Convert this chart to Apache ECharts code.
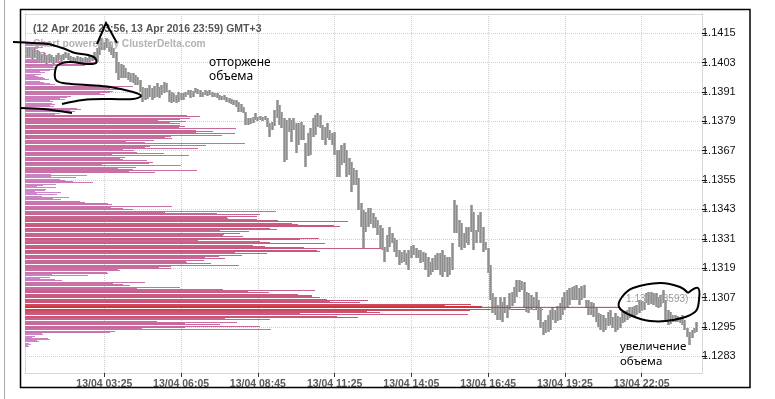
<!DOCTYPE html>
<html><head><meta charset="utf-8">
<script src="https://cdn.jsdelivr.net/npm/echarts@6/dist/echarts.min.js"></script>
<style>html,body{margin:0;padding:0;background:#fff}#c{width:775px;height:399px}</style>
</head><body><div id="c"></div>
<script>
const titleText = '(12 Apr 2016 23:56, 13 Apr 2016 23:59) GMT+3';
const subText = 'Chart powered by ClusterDelta.com';
const xTickMinutes = [205, 365, 525, 685, 845, 1005, 1165, 1325];
const yTickValues = [1.1283, 1.1295, 1.1307, 1.1319, 1.1331, 1.1343, 1.1355, 1.1367, 1.1379, 1.1391, 1.1403, 1.1415];
const firstBarMinute = 45, barStepMinutes = 5;

const barHigh = [
1.14089,1.14093,1.14081,1.14089,1.14081,1.14072,1.14060,1.14068,1.14056,1.14064,
1.14060,1.14052,1.14060,1.14068,1.14060,1.14064,1.14072,1.14068,1.14056,1.14052,
1.14048,1.14056,1.14052,1.14048,1.14052,1.14048,1.14056,1.14060,1.14072,1.14089,
1.14121,1.14130,1.14113,1.14130,1.14113,1.14101,1.14089,1.14072,1.14032,1.14023,
1.14019,1.14007,1.13991,1.13987,1.13987,1.13979,1.13970,1.13958,1.13930,1.13926,
1.13926,1.13938,1.13926,1.13934,1.13946,1.13930,1.13938,1.13950,1.13946,1.13917,
1.13909,1.13905,1.13897,1.13909,1.13905,1.13905,1.13909,1.13917,1.13917,1.13913,
1.13926,1.13921,1.13917,1.13909,1.13917,1.13913,1.13917,1.13909,1.13905,1.13905,
1.13897,1.13893,1.13897,1.13889,1.13885,1.13881,1.13876,1.13876,1.13868,1.13860,
1.13848,1.13827,1.13803,1.13803,1.13807,1.13823,1.13807,1.13811,1.13807,1.13811,
1.13803,1.13783,1.13787,1.13836,1.13876,1.13856,1.13827,1.13803,1.13795,1.13803,
1.13795,1.13803,1.13783,1.13783,1.13787,1.13774,1.13701,1.13742,1.13762,1.13803,
1.13815,1.13823,1.13815,1.13774,1.13766,1.13783,1.13754,1.13742,1.13746,1.13672,
1.13672,1.13693,1.13701,1.13672,1.13640,1.13623,1.13599,1.13591,1.13558,1.13456,
1.13428,1.13419,1.13436,1.13436,1.13415,1.13399,1.13387,1.13366,1.13354,1.13276,
1.13325,1.13358,1.13334,1.13313,1.13305,1.13264,1.13256,1.13264,1.13252,1.13264,
1.13281,1.13285,1.13272,1.13264,1.13264,1.13256,1.13252,1.13236,1.13215,1.13232,
1.13244,1.13252,1.13252,1.13264,1.13244,1.13236,1.13236,1.13293,1.13468,1.13448,
1.13387,1.13374,1.13334,1.13358,1.13358,1.13448,1.13419,1.13346,1.13407,1.13419,
1.13358,1.13297,1.13272,1.13203,1.13089,1.13072,1.13040,1.13072,1.13052,1.13072,
1.13040,1.13089,1.13093,1.13113,1.13142,1.13142,1.13138,1.13134,1.13093,1.13089,
1.13081,1.13072,1.13093,1.13060,1.13027,1.12970,1.12978,1.12999,1.13019,1.13032,
1.13019,1.13036,1.13048,1.13072,1.13093,1.13101,1.13109,1.13113,1.13117,1.13121,
1.13109,1.13117,1.13121,1.13060,1.13060,1.13052,1.13048,1.13027,1.13007,1.13003,
1.12999,1.12987,1.13011,1.13019,1.12991,1.13007,1.12995,1.12991,1.13011,1.13015,
1.13019,1.13032,1.13032,1.13036,1.13040,1.13060,1.13056,1.13052,1.13089,1.13093,
1.13093,1.13089,1.13089,1.13072,1.13081,1.13101,1.13060,1.13019,1.13011,1.12999,
1.12999,1.12995,1.12991,1.12999,1.12978,1.12946,1.12930,1.12938,1.12946,1.12970
];
const barLow = [
1.14048,1.14056,1.14040,1.14052,1.14040,1.14032,1.14028,1.14036,1.14023,1.14032,
1.14028,1.14019,1.14032,1.14040,1.14032,1.14040,1.14048,1.14040,1.14032,1.14028,
1.14028,1.14032,1.14023,1.14028,1.14032,1.14023,1.14032,1.14036,1.14040,1.14032,
1.14060,1.14081,1.14081,1.14089,1.14072,1.14060,1.14048,1.13987,1.13958,1.13966,
1.13966,1.13966,1.13958,1.13950,1.13946,1.13938,1.13938,1.13909,1.13868,1.13876,
1.13881,1.13889,1.13876,1.13885,1.13889,1.13885,1.13897,1.13905,1.13909,1.13868,
1.13864,1.13868,1.13864,1.13868,1.13876,1.13876,1.13889,1.13897,1.13885,1.13889,
1.13905,1.13901,1.13889,1.13889,1.13897,1.13893,1.13897,1.13889,1.13889,1.13885,
1.13876,1.13876,1.13876,1.13868,1.13864,1.13860,1.13856,1.13848,1.13827,1.13827,
1.13823,1.13774,1.13774,1.13779,1.13783,1.13795,1.13791,1.13795,1.13791,1.13795,
1.13766,1.13725,1.13754,1.13770,1.13803,1.13774,1.13762,1.13623,1.13632,1.13746,
1.13705,1.13754,1.13660,1.13693,1.13713,1.13713,1.13603,1.13648,1.13652,1.13725,
1.13734,1.13766,1.13762,1.13713,1.13693,1.13721,1.13713,1.13693,1.13652,1.13562,
1.13562,1.13611,1.13619,1.13562,1.13570,1.13501,1.13530,1.13530,1.13428,1.13358,
1.13272,1.13338,1.13358,1.13370,1.13354,1.13354,1.13325,1.13272,1.13264,1.13215,
1.13256,1.13276,1.13293,1.13256,1.13236,1.13203,1.13211,1.13215,1.13203,1.13183,
1.13232,1.13244,1.13232,1.13232,1.13211,1.13215,1.13183,1.13154,1.13162,1.13174,
1.13183,1.13183,1.13162,1.13154,1.13174,1.13154,1.13162,1.13183,1.13334,1.13334,
1.13276,1.13264,1.13272,1.13293,1.13285,1.13338,1.13264,1.13293,1.13338,1.13293,
1.13256,1.13264,1.13170,1.13060,1.13007,1.12999,1.12978,1.12978,1.12970,1.13007,
1.12987,1.13019,1.13036,1.13048,1.13072,1.13093,1.13101,1.13027,1.13011,1.13007,
1.13019,1.13027,1.13019,1.12978,1.12946,1.12917,1.12925,1.12930,1.12938,1.12978,
1.12966,1.12974,1.12978,1.12999,1.13019,1.13027,1.13040,1.13060,1.13060,1.13060,
1.13040,1.13060,1.13068,1.13027,1.12999,1.12999,1.12991,1.12970,1.12950,1.12938,
1.12930,1.12938,1.12954,1.12958,1.12946,1.12930,1.12938,1.12946,1.12966,1.12970,
1.12978,1.12987,1.12991,1.12995,1.12999,1.13007,1.13015,1.13019,1.13048,1.13040,
1.13044,1.13040,1.13032,1.13027,1.13032,1.13048,1.12970,1.12958,1.12962,1.12970,
1.12970,1.12970,1.12966,1.12958,1.12938,1.12909,1.12876,1.12905,1.12925,1.12930
];

const profilePrice = [
1.1411,1.1410,1.1409,1.1408,1.1407,1.1406,1.1405,1.1404,1.1403,1.1402,
1.1401,1.1400,1.1399,1.1398,1.1397,1.1396,1.1395,1.1394,1.1393,1.1392,
1.1391,1.1390,1.1389,1.1388,1.1387,1.1386,1.1385,1.1384,1.1383,1.1382,
1.1381,1.1380,1.1379,1.1378,1.1377,1.1376,1.1375,1.1374,1.1373,1.1372,
1.1371,1.1370,1.1369,1.1368,1.1367,1.1366,1.1365,1.1364,1.1363,1.1362,
1.1361,1.1360,1.1359,1.1358,1.1357,1.1356,1.1355,1.1354,1.1353,1.1352,
1.1351,1.1350,1.1349,1.1348,1.1347,1.1346,1.1345,1.1344,1.1343,1.1342,
1.1341,1.1340,1.1339,1.1338,1.1337,1.1336,1.1335,1.1334,1.1333,1.1332,
1.1331,1.1330,1.1329,1.1328,1.1327,1.1326,1.1325,1.1324,1.1323,1.1322,
1.1321,1.1320,1.1319,1.1318,1.1317,1.1316,1.1315,1.1314,1.1313,1.1312,
1.1311,1.1310,1.1309,1.1308,1.1307,1.1306,1.1305,1.1304,1.1303,1.1302,
1.1301,1.1300,1.1299,1.1298,1.1297,1.1296,1.1295,1.1294,1.1293,1.1292,
1.1291,1.1290,1.1289,1.1288,1.1287
];
const profileVol = [
173,173,102,79,118,157,197,236,511,472,
220,197,118,79,102,157,118,197,723,668,
668,590,330,275,197,212,197,409,354,236,
1273,1218,1045,1140,1218,1210,1344,1344,1148,1100,
794,943,983,943,770,880,684,747,770,975,
605,731,849,817,204,204,275,377,141,94,
157,79,94,134,220,432,652,676,770,1100,
1509,1588,1596,1989,2099,2429,1926,1533,1564,1556,
2162,1360,1926,1792,2193,2295,1651,1525,1415,1265,
1273,1148,1053,731,645,212,118,236,692,770,
880,1556,1753,2146,2256,2374,2397,3301,3593,3498,
2688,2162,2452,1572,1038,1258,1258,920,668,134,
55,181,94,31,24
];
const profileTail = [
197,173,141,110,157,204,236,267,566,503,
252,236,157,126,141,189,149,236,849,747,
692,629,362,314,220,236,228,440,393,275,
1376,1297,1265,1218,1258,1658,1478,1651,1548,1155,
1014,1729,1423,1360,857,1093,1289,786,959,1006,
1226,872,1352,1022,487,401,314,534,244,244,
165,283,252,346,283,472,684,1155,849,1973,
1847,1824,1824,2539,2146,2476,1981,1761,1690,1713,
2311,1847,2358,1886,2837,2319,1902,1706,1572,1407,
1462,1682,1148,747,652,495,197,291,943,825,
1218,2279,1918,2256,2319,2696,2633,3506,3593,4071,
2790,3482,2617,1926,1666,1533,1847,1934,707,141,
79,197,110,47,31
];
const pocPrice = 1.1303, pocVolume = 3593, pocLineEnd = 4677;
const xMin = 39.7, xMax = 1450.7, yMin = 1.12762, yMax = 1.14228, volMax = 5321;
const priceStep = 0.0001;

const barData = barHigh.map((h, i) => [firstBarMinute + i * barStepMinutes, h, barLow[i]]);
const profData = profilePrice.map((p, i) => [profileVol[i], p, profileTail[i]]);

const stops = [[0, [206, 138, 204]], [0.12, [202, 118, 178]], [0.35, [200, 104, 152]], [0.65, [200, 88, 122]], [1, [204, 70, 92]]];
function profColor(v, p) {
  if (Math.abs(p - pocPrice) < 1e-7) return 'rgb(210,56,56)';
  const f = Math.min(1, v / pocVolume);
  for (let i = 1; i < stops.length; i++) {
    if (f <= stops[i][0]) {
      const a = stops[i - 1], b = stops[i];
      const t = (f - a[0]) / (b[0] - a[0]);
      const c = a[1].map((x, k) => Math.round(x + (b[1][k] - x) * t));
      return 'rgb(' + c.join(',') + ')';
    }
  }
  return 'rgb(204,70,92)';
}
function fmtTime(m) {
  const h = Math.floor(m / 60), mm = Math.round(m % 60);
  return '13/04 ' + String(h).padStart(2, '0') + ':' + String(mm).padStart(2, '0');
}
const gridLine = { show: true, lineStyle: { color: '#cfcfcf', type: 'dotted', width: 1 } };
const borderLine = { show: true, onZero: false, lineStyle: { color: '#cfcfcf', type: 'dotted', width: 1 } };

const chart = echarts.init(document.getElementById('c'), null, { renderer: 'canvas' });
chart.setOption({
  animation: false,
  backgroundColor: '#fff',
  title: {
    text: titleText, subtext: subText, left: 28, top: 19, itemGap: 4,
    textStyle: { fontFamily: 'Liberation Sans', fontSize: 10.5, fontWeight: 'bold', color: '#555' },
    subtextStyle: { fontFamily: 'Liberation Sans', fontSize: 10.2, fontWeight: 'bold', color: '#b3b3b3' }
  },
  grid: { left: 25, top: 14, width: 677, height: 359 },
  xAxis: [
    { type: 'value', min: xMin, max: xMax, position: 'bottom',
      axisLine: borderLine,
      axisTick: { show: true, length: 4, customValues: xTickMinutes, lineStyle: { color: '#333' } },
      axisLabel: { customValues: xTickMinutes, formatter: fmtTime, margin: 6,
        fontFamily: 'Liberation Sans', fontSize: 10.5, fontWeight: 'bold', color: '#5a5a5a' },
      splitLine: gridLine },
    { type: 'value', min: 0, max: volMax, position: 'top',
      axisLine: borderLine, axisTick: { show: false }, axisLabel: { show: false }, splitLine: { show: false } }
  ],
  yAxis: [
    { type: 'value', min: yMin, max: yMax, position: 'right',
      axisLine: borderLine,
      axisTick: { show: true, length: 5, customValues: yTickValues, lineStyle: { color: '#111' } },
      axisLabel: { customValues: yTickValues, formatter: v => v.toFixed(4), margin: 0,
        fontFamily: 'Liberation Sans', fontSize: 11, color: '#111' },
      splitLine: gridLine },
    { type: 'value', min: yMin, max: yMax, position: 'left',
      axisLine: borderLine, axisTick: { show: false }, axisLabel: { show: false }, splitLine: { show: false } }
  ],
  series: [
    { type: 'custom', name: 'profile', xAxisIndex: 1, yAxisIndex: 0, clip: true, z: 2,
      data: profData,
      renderItem: function (params, api) {
        const v = api.value(0), p = api.value(1), tail = api.value(2);
        const a = api.coord([0, p]), b = api.coord([v, p]), c = api.coord([tail, p]);
        const h = api.size([0, priceStep])[1];
        const top = Math.round(a[1] - h / 2), bot = Math.round(a[1] + h / 2);
        let hp = bot - top; if (hp >= 3) hp -= 1;
        const x0 = Math.round(a[0]);
        const col = profColor(v, p);
        return { type: 'group', children: [
          { type: 'rect', shape: { x: x0, y: Math.floor(a[1]), width: Math.round(c[0]) - x0, height: 1 }, style: { fill: col } },
          { type: 'rect', shape: { x: x0, y: top, width: Math.round(b[0]) - x0, height: hp }, style: { fill: col } }
        ] };
      } },
    { type: 'custom', name: 'price', xAxisIndex: 0, yAxisIndex: 0, clip: true, z: 3,
      data: barData,
      renderItem: function (params, api) {
        const t = api.value(0);
        const hi = api.coord([t, api.value(1)]), lo = api.coord([t, api.value(2)]);
        const y0 = Math.round(hi[1]), y1 = Math.round(lo[1]);
        const hgt = Math.max(1, y1 - y0);
        const xl = Math.round(hi[0] - 1.5);
        return { type: 'group', children: [
          { type: 'rect', shape: { x: xl, y: y0, width: 3, height: hgt }, style: { fill: '#aaaaaa' } },
          { type: 'rect', shape: { x: xl + 1, y: y0, width: 1, height: hgt }, style: { fill: '#8e8e8e' } }
        ] };
      } },
    { type: 'line', name: 'POC', xAxisIndex: 1, yAxisIndex: 0, z: 4, symbol: 'none',
      data: [[0, pocPrice], [pocLineEnd, pocPrice]],
      lineStyle: { color: '#d23434', width: 1 },
      endLabel: { show: true, formatter: pocPrice.toFixed(4) + ' (' + pocVolume + ')', distance: 6, offset: [0, -8],
        fontFamily: 'Liberation Sans', fontSize: 10, color: '#999' } }
  ],
  graphic: [
    { type: 'line', z: 100, shape: { x1: 4.5, y1: 0, x2: 4.5, y2: 399 }, style: { stroke: '#aaaaaa', lineWidth: 1 } },
    { type: 'rect', z: 100, shape: { x: 20.5, y: 9.5, width: 729.5, height: 378 }, style: { fill: null, stroke: '#000', lineWidth: 1.5 } },
    { type: 'text', z: 100, left: 209, top: 57, style: { text: 'отторжене', font: '12px "Noto Sans"', fill: '#000' } },
    { type: 'text', z: 100, left: 209, top: 71, style: { text: 'объема', font: '12px "Noto Sans"', fill: '#000' } },
    { type: 'text', z: 100, left: 620, top: 341, style: { text: 'увеличение', font: '11.5px "Noto Sans"', fill: '#000' } },
    { type: 'text', z: 100, left: 620, top: 356, style: { text: 'объема', font: '11.5px "Noto Sans"', fill: '#000' } },
    { type: 'polyline', z: 100, shape: { points: [[97, 44], [106, 23], [117, 43]] }, style: { stroke: '#000', lineWidth: 2, fill: null } },
    { type: 'polyline', z: 100, shape: { smooth: 0.35, points: [[13, 42], [33, 43], [48, 44], [65, 49], [75, 53], [88, 55], [95, 58], [96, 63], [87, 64], [70, 62], [58, 65], [55, 72], [56, 80], [63, 83], [87, 85], [110, 87], [133, 92], [141, 96], [133, 99], [110, 99], [83, 100], [62, 104]] }, style: { stroke: '#000', lineWidth: 2, fill: null } },
    { type: 'polyline', z: 100, shape: { smooth: 0.3, points: [[20, 108], [43, 109], [72, 113]] }, style: { stroke: '#000', lineWidth: 2, fill: null } },
    { type: 'polyline', z: 100, shape: { smooth: 0.4, points: [[688, 293], [698, 288], [699, 300], [695, 312], [673, 320], [650, 321], [630, 315], [619, 307], [622, 297], [633, 288], [660, 283], [680, 287], [688, 293]] }, style: { stroke: '#000', lineWidth: 2, fill: null } }
  ]
});
</script>
</body></html>
